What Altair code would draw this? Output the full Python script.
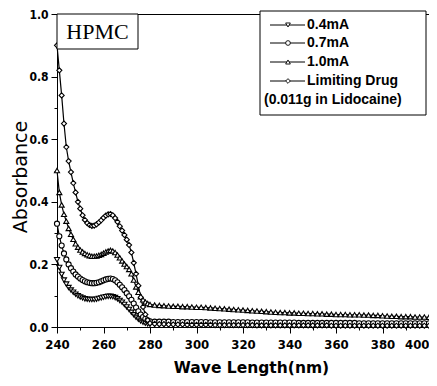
import altair as alt
import pandas as pd

# wavelength grid (nm)
wl = list(range(240, 281)) + list(range(282, 401, 2))

series_names = ["0.4mA", "0.7mA", "1.0mA", "Limiting Drug"]
shapes = ["triangle-down", "circle", "triangle-up", "diamond"]

a04 = [0.215, 0.19, 0.168, 0.15, 0.137, 0.126, 0.118, 0.111, 0.105, 0.1,
       0.096, 0.093, 0.09, 0.089, 0.088, 0.088, 0.088, 0.089, 0.091, 0.093,
       0.095, 0.097, 0.098, 0.098, 0.097, 0.094, 0.09, 0.085, 0.079, 0.072,
       0.064, 0.056, 0.047, 0.039, 0.031, 0.025, 0.019, 0.015, 0.012, 0.01, 0.009,
       0.009, 0.009, 0.009, 0.009, 0.009, 0.009, 0.009, 0.008, 0.008, 0.008,
       0.008, 0.008, 0.008, 0.008, 0.008, 0.008, 0.008, 0.008, 0.008, 0.008,
       0.008, 0.008, 0.008, 0.008, 0.008, 0.008, 0.008, 0.008, 0.008, 0.008,
       0.008, 0.007, 0.007, 0.007, 0.007, 0.007, 0.007, 0.007, 0.007, 0.007,
       0.007, 0.007, 0.007, 0.007, 0.007, 0.007, 0.007, 0.007, 0.007, 0.007,
       0.007, 0.007, 0.007, 0.007, 0.007, 0.007, 0.007, 0.007, 0.007, 0.007]

a07 = [0.33, 0.29, 0.26, 0.235, 0.216, 0.2, 0.188, 0.177, 0.168, 0.161,
       0.155, 0.15, 0.146, 0.143, 0.141, 0.14, 0.14, 0.141, 0.143, 0.146,
       0.149, 0.152, 0.154, 0.155, 0.153, 0.149, 0.143, 0.135, 0.127, 0.118,
       0.108, 0.098, 0.087, 0.075, 0.062, 0.05, 0.04, 0.032, 0.026, 0.021, 0.018,
       0.017, 0.017, 0.017, 0.017, 0.016, 0.016, 0.016, 0.016, 0.016, 0.016,
       0.016, 0.016, 0.015, 0.015, 0.015, 0.015, 0.015, 0.015, 0.015, 0.015,
       0.015, 0.014, 0.014, 0.014, 0.014, 0.014, 0.014, 0.014, 0.014, 0.014,
       0.014, 0.013, 0.013, 0.013, 0.013, 0.013, 0.013, 0.013, 0.013, 0.013,
       0.013, 0.013, 0.013, 0.013, 0.012, 0.012, 0.012, 0.012, 0.012, 0.012,
       0.012, 0.012, 0.012, 0.012, 0.012, 0.012, 0.012, 0.012, 0.012, 0.012]

a10 = [0.50, 0.43, 0.39, 0.36, 0.338, 0.315, 0.296, 0.28, 0.266, 0.255,
       0.246, 0.24, 0.235, 0.231, 0.228, 0.226, 0.226, 0.227, 0.229, 0.232,
       0.236, 0.24, 0.243, 0.245, 0.243, 0.238, 0.23, 0.221, 0.211, 0.201,
       0.193, 0.184, 0.17, 0.15, 0.128, 0.111, 0.097, 0.087, 0.08, 0.075, 0.072,
       0.070, 0.069, 0.068, 0.067, 0.066, 0.066, 0.065, 0.065, 0.064, 0.063,
       0.063, 0.062, 0.061, 0.060, 0.059, 0.058, 0.057, 0.056, 0.055, 0.054,
       0.053, 0.052, 0.051, 0.050, 0.049, 0.048, 0.047, 0.046, 0.046, 0.045,
       0.045, 0.044, 0.044, 0.043, 0.043, 0.042, 0.042, 0.041, 0.041, 0.040,
       0.040, 0.040, 0.039, 0.039, 0.039, 0.038, 0.038, 0.037, 0.037, 0.036,
       0.035, 0.034, 0.034, 0.033, 0.033, 0.033, 0.032, 0.032, 0.032, 0.031]

ald = [0.90, 0.82, 0.74, 0.65, 0.575, 0.53, 0.495, 0.46, 0.43, 0.40,
       0.378, 0.357, 0.342, 0.332, 0.326, 0.323, 0.324, 0.328, 0.334, 0.341,
       0.349, 0.356, 0.360, 0.361, 0.357, 0.348, 0.336, 0.322, 0.308, 0.294,
       0.279, 0.262, 0.238, 0.205, 0.17, 0.132, 0.095, 0.064, 0.04, 0.022, 0.012,
       0.010, 0.009, 0.009, 0.008, 0.008, 0.008, 0.008, 0.007, 0.007, 0.007,
       0.007, 0.007, 0.007, 0.006, 0.006, 0.006, 0.006, 0.006, 0.006, 0.006,
       0.006, 0.006, 0.005, 0.005, 0.005, 0.005, 0.005, 0.005, 0.005, 0.005,
       0.005, 0.005, 0.005, 0.005, 0.005, 0.005, 0.005, 0.005, 0.004, 0.004,
       0.004, 0.004, 0.004, 0.004, 0.004, 0.004, 0.004, 0.004, 0.004, 0.004,
       0.004, 0.004, 0.004, 0.004, 0.004, 0.004, 0.004, 0.004, 0.004, 0.004]

x_major = [240, 260, 280, 300, 320, 340, 360, 380, 400]
x_minor = [250, 270, 290, 310, 330, 350, 370, 390]
y_major = [0.0, 0.2, 0.4, 0.6, 0.8, 1.0]
y_minor = [0.1, 0.3, 0.5, 0.7, 0.9]

legend_note = "(0.011g in Lidocaine)"
panel_label = "HPMC"

rows = []
for name, vals in zip(series_names, [a04, a07, a10, ald]):
    for x, y in zip(wl, vals):
        rows.append({"series": name, "wl": x, "absorb": y})
df = pd.DataFrame(rows)

W, H = 372, 313
label_font = "Liberation Sans Narrow, DejaVu Sans Condensed, sans-serif"

xs = alt.Scale(domain=[240, 400], nice=False, zero=False)
ys = alt.Scale(domain=[0, 1.0], nice=False, zero=False)

xaxis = alt.Axis(values=x_major, format="d", tickSize=6, labelPadding=5,
                 labelFont=label_font, labelFontSize=13, labelFontWeight="bold",
                 labelAlign={"condition": {"test": "datum.value >= 400", "value": "right"},
                             "value": "center"},
                 title="Wave Length(nm)", titleFont="DejaVu Sans", titleFontSize=15.5,
                 titleFontWeight="bold", titlePadding=9, titleX=W / 2 + 8,
                 grid=False)
yaxis = alt.Axis(values=y_major, format=".1f", tickSize=6, labelPadding=3,
                 labelFont=label_font, labelFontSize=12, labelFontWeight="bold",
                 title="Absorbance", titleFont="DejaVu Sans", titleFontSize=19,
                 titleFontWeight="normal", titleX=-31, titleY=H / 2 + 6,
                 titleBaseline="alphabetic", titleAngle=270, titleAlign="center",
                 grid=False)

base = alt.Chart(df)
lines = base.mark_line(color="black", strokeWidth=1.2).encode(
    x=alt.X("wl:Q", scale=xs, axis=xaxis),
    y=alt.Y("absorb:Q", scale=ys, axis=yaxis),
    detail="series:N",
)
points = base.mark_point(filled=True, fill="white", stroke="black", strokeWidth=1.1,
                         size=26, opacity=1).encode(
    x=alt.X("wl:Q", scale=xs, axis=xaxis),
    y=alt.Y("absorb:Q", scale=ys, axis=yaxis),
    shape=alt.Shape("series:N", scale=alt.Scale(domain=series_names, range=shapes),
                    legend=None),
)
data_layer = alt.layer(lines, points)

minor = base.mark_point(opacity=0).encode(
    x=alt.X("wl:Q", scale=xs,
            axis=alt.Axis(values=x_minor, labels=False, tickSize=3, domain=False,
                          title=None, grid=False, orient="bottom")),
    y=alt.Y("absorb:Q", scale=ys,
            axis=alt.Axis(values=y_minor, labels=False, tickSize=3, domain=False,
                          title=None, grid=False, orient="left")),
)

one = pd.DataFrame({"k": [0]})
hp_box = alt.Chart(one).mark_rect(fill="white", stroke="black", strokeWidth=1).encode(
    x=alt.value(0), x2=alt.value(81), y=alt.value(0), y2=alt.value(35))
hp_text = alt.Chart(one).mark_text(text=panel_label, font="Liberation Serif", fontSize=22,
                                   align="center", baseline="middle", color="black").encode(
    x=alt.value(40.5), y=alt.value(18))

leg_box = alt.Chart(one).mark_rect(fill="white", stroke="black", strokeWidth=1).encode(
    x=alt.value(203), x2=alt.value(369), y=alt.value(-3), y2=alt.value(101))
leg_layers = [leg_box]
row_y = [11, 29, 48, 67]
for name, shp, ry in zip(series_names, shapes, row_y):
    leg_layers.append(alt.Chart(one).mark_rule(color="black", strokeWidth=1).encode(
        x=alt.value(213), x2=alt.value(248), y=alt.value(ry)))
    leg_layers.append(alt.Chart(one).mark_point(shape=shp, filled=True, fill="white",
                                                stroke="black", strokeWidth=0.9, size=22,
                                                opacity=1).encode(
        x=alt.value(231), y=alt.value(ry)))
    leg_layers.append(alt.Chart(one).mark_text(text=name, align="left", baseline="middle",
                                               font="Liberation Sans", fontSize=14,
                                               fontWeight="bold", color="black").encode(
        x=alt.value(250), y=alt.value(ry)))
leg_layers.append(alt.Chart(one).mark_text(text=legend_note, align="left", baseline="middle",
                                           font="Liberation Sans", fontSize=14,
                                           fontWeight="bold", color="black").encode(
    x=alt.value(207), y=alt.value(86)))

chart = alt.layer(
    data_layer, minor, hp_box, hp_text, *leg_layers
).resolve_axis(x="independent", y="independent").properties(
    width=W, height=H,
    autosize=alt.AutoSizeParams(type="none"),
    padding={"left": 49, "top": 6, "right": 0, "bottom": 51},
    background="white",
).configure_view(
    stroke="black", strokeWidth=1
).configure_axis(
    domainColor="black", tickColor="black", labelColor="black", titleColor="black",
    domainWidth=1, tickWidth=1
)

chart.save("out.html", embed_options={"renderer": "svg", "actions": False})
